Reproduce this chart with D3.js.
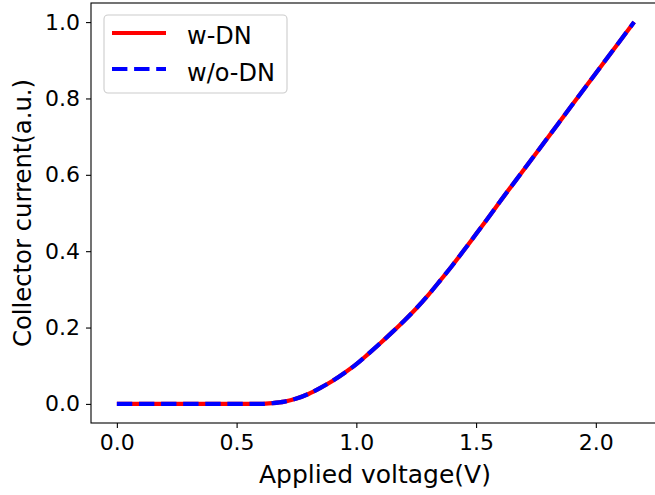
<!DOCTYPE html>
<html>
<head>
<meta charset="utf-8">
<script src="https://cdn.jsdelivr.net/npm/d3@7"></script>
<style>
  body { margin: 0; background: #fff; }
  svg { display: block; font-family: "DejaVu Sans", sans-serif; }
</style>
</head>
<body>
<div id="chart"></div>
<script>
// voltage (V) and normalised collector current
var voltage = [0.0, 0.1, 0.2, 0.3, 0.4, 0.5, 0.6, 0.65, 0.7, 0.75, 0.8, 0.85, 0.9, 0.95,
               1.0, 1.05, 1.1, 1.15, 1.2, 1.25, 1.3, 1.35, 1.4, 1.45, 1.5, 1.55, 1.6,
               1.7, 1.8, 1.9, 2.0, 2.1, 2.16];
var currentWithDN = [0, 0, 0, 0, 0, 0, 0.0, 0.002, 0.006, 0.014, 0.026, 0.042, 0.060, 0.081,
                     0.104, 0.131, 0.159, 0.188, 0.218, 0.250, 0.285, 0.323, 0.362, 0.403,
                     0.445, 0.487, 0.530, 0.614, 0.698, 0.782, 0.866, 0.950, 1.0];
var currentWithoutDN = [0, 0, 0, 0, 0, 0, 0.0, 0.002, 0.006, 0.014, 0.026, 0.042, 0.060, 0.081,
                        0.104, 0.131, 0.159, 0.188, 0.218, 0.250, 0.285, 0.323, 0.362, 0.403,
                        0.445, 0.487, 0.530, 0.614, 0.698, 0.782, 0.866, 0.950, 1.0];
var xTicks = [0.0, 0.5, 1.0, 1.5, 2.0];
var yTicks = [0.0, 0.2, 0.4, 0.6, 0.8, 1.0];
var seriesNames = ["w-DN", "w/o-DN"];

var W = 655, H = 495;
var margin = {top: 3, right: -5, bottom: 72, left: 91};
var width = W - margin.left - margin.right,
    height = H - margin.top - margin.bottom;

var svg = d3.select("#chart").append("svg")
  .attr("width", W).attr("height", H);
var g = svg.append("g")
  .attr("transform", "translate(" + margin.left + "," + margin.top + ")");

var x = d3.scaleLinear().domain([-0.108, 2.268]).range([0, width]);
var y = d3.scaleLinear().domain([-0.05, 1.05]).range([height, 0]);

// axes
var xAxis = g.append("g")
  .attr("transform", "translate(0," + height + ")")
  .call(d3.axisBottom(x).tickValues(xTicks).tickFormat(d3.format(".1f"))
        .tickSize(5).tickPadding(6).tickSizeOuter(0));
var yAxis = g.append("g")
  .call(d3.axisLeft(y).tickValues(yTicks).tickFormat(d3.format(".1f"))
        .tickSize(5).tickPadding(6).tickSizeOuter(0));
[xAxis, yAxis].forEach(function(a) {
  a.selectAll("text").attr("font-size", "22px").attr("fill", "#000")
    .attr("font-family", "DejaVu Sans");
  a.selectAll("line").attr("stroke", "#000").attr("stroke-width", 1.1);
  a.select(".domain").remove();
});

// frame
g.append("rect")
  .attr("x", 0).attr("y", 0).attr("width", width).attr("height", height)
  .attr("fill", "none").attr("stroke", "#000").attr("stroke-width", 1.1);

// lines
var line = d3.line()
  .curve(d3.curveMonotoneX)
  .x(function(d) { return x(d[0]); })
  .y(function(d) { return y(d[1]); });

g.append("path")
  .datum(d3.zip(voltage, currentWithDN))
  .attr("d", line)
  .attr("fill", "none").attr("stroke", "#ff0000").attr("stroke-width", 4.2);
g.append("path")
  .datum(d3.zip(voltage, currentWithoutDN))
  .attr("d", line)
  .attr("fill", "none").attr("stroke", "#0000ff").attr("stroke-width", 4.2)
  .attr("stroke-dasharray", "15.4,6.7");

// axis labels
svg.append("text")
  .attr("x", 375).attr("y", 483)
  .attr("text-anchor", "middle").attr("font-size", "25px")
  .text("Applied voltage(V)");
svg.append("text")
  .attr("transform", "translate(31," + (margin.top + height / 2) + ") rotate(-90)")
  .attr("text-anchor", "middle").attr("font-size", "24.3px")
  .text("Collector current(a.u.)");

// legend
var lg = svg.append("g");
lg.append("rect")
  .attr("x", 104).attr("y", 15).attr("width", 183).attr("height", 78)
  .attr("rx", 4).attr("fill", "#fff").attr("fill-opacity", 0.8)
  .attr("stroke", "#cccccc").attr("stroke-width", 1.1);
lg.append("line")
  .attr("x1", 112).attr("x2", 166).attr("y1", 33).attr("y2", 33)
  .attr("stroke", "#ff0000").attr("stroke-width", 4.2);
lg.append("line")
  .attr("x1", 112).attr("x2", 166).attr("y1", 69).attr("y2", 69)
  .attr("stroke", "#0000ff").attr("stroke-width", 4.2)
  .attr("stroke-dasharray", "15.4,6.7");
lg.selectAll("text.lab").data(seriesNames).enter().append("text")
  .attr("class", "lab")
  .attr("x", 187).attr("y", function(d, i) { return 44 + i * 36.5; })
  .attr("font-size", "24px")
  .text(function(d) { return d; });
</script>
</body>
</html>
